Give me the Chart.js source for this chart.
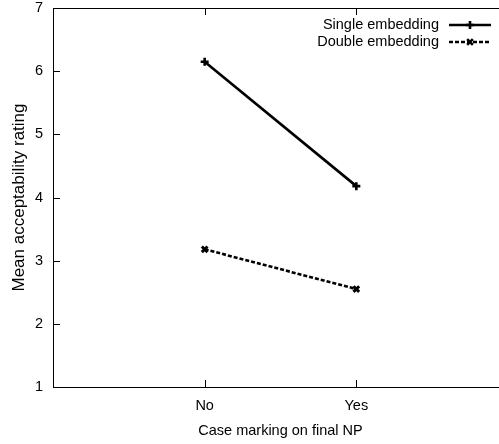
<!DOCTYPE html>
<html><head><meta charset="utf-8">
<script src="https://cdn.jsdelivr.net/npm/chart.js@4/dist/chart.umd.min.js"></script>
<style>
html,body{margin:0;padding:0;overflow:hidden;background:#fff;width:499px;height:444px}
#wrap{position:relative;width:520px;height:444px}
</style></head>
<body><div id="wrap"><canvas id="c" width="520" height="444"></canvas></div>
<script>
const categories = ['No', 'Yes'];
const seriesNames = ['Single embedding', 'Double embedding'];
const singleValues = [6.15, 4.18];
const doubleValues = [3.18, 2.55];
const yTicks = [1, 2, 3, 4, 5, 6, 7];
const xTitle = 'Case marking on final NP';
const yTitle = 'Mean acceptability rating';

const FONT = "'Liberation Sans', Arial, sans-serif";

function toPoints(vals) { return vals.map((v, i) => ({ x: i + 1, y: v })); }

const frame = {
  id: 'frame',
  beforeDatasetsDraw(chart) {
    const { ctx, chartArea: a, scales } = chart;
    ctx.save();
    ctx.strokeStyle = '#000';
    ctx.lineWidth = 1;
    ctx.strokeRect(a.left + 0.5, a.top + 0.5, a.right - a.left, a.bottom - a.top);
    const L = 7;
    ctx.beginPath();
    yTicks.forEach(v => {
      const y = Math.round(scales.y.getPixelForValue(v)) + 0.5;
      ctx.moveTo(a.left, y); ctx.lineTo(a.left + L, y);
      ctx.moveTo(a.right, y); ctx.lineTo(a.right - L, y);
    });
    categories.forEach((c, i) => {
      const x = Math.round(scales.x.getPixelForValue(i + 1)) + 0.5;
      ctx.moveTo(x, a.bottom); ctx.lineTo(x, a.bottom - L);
      ctx.moveTo(x, a.top); ctx.lineTo(x, a.top + L);
    });
    ctx.stroke();
    ctx.restore();
  }
};

const legendPlugin = {
  id: 'customLegend',
  afterDraw(chart) {
    const { ctx } = chart;
    ctx.save();
    ctx.font = '14.5px ' + FONT;
    ctx.textAlign = 'right';
    ctx.textBaseline = 'middle';
    ctx.fillStyle = '#000';
    const rows = [25, 42];
    chart.data.datasets.forEach((ds, i) => {
      const y = rows[i];
      ctx.fillText(ds.label, 439, y);
      ctx.strokeStyle = '#000';
      ctx.lineWidth = ds.borderWidth;
      ctx.setLineDash(ds.borderDash || []);
      ctx.beginPath();
      ctx.moveTo(449, y); ctx.lineTo(491, y);
      ctx.stroke();
      ctx.setLineDash([]);
      Chart.helpers.drawPoint(ctx, {
        pointStyle: ds.pointStyle, radius: ds.pointRadius, borderWidth: ds.pointBorderWidth, rotation: 0
      }, 470, y);
    });
    ctx.restore();
  }
};

new Chart(document.getElementById('c'), {
  type: 'line',
  data: {
    datasets: [
      {
        label: seriesNames[0], data: toPoints(singleValues),
        borderColor: '#000', backgroundColor: '#000', borderWidth: 2.6,
        pointStyle: 'cross', pointRadius: 4, pointBorderWidth: 2.6,
        pointBorderColor: '#000'
      },
      {
        label: seriesNames[1], data: toPoints(doubleValues),
        borderColor: '#000', backgroundColor: '#000', borderWidth: 2.6, borderDash: [4, 2],
        pointStyle: 'crossRot', pointRadius: 4, pointBorderWidth: 3,
        pointBorderColor: '#000'
      }
    ]
  },
  options: {
    responsive: false,
    animation: false,
    devicePixelRatio: 1,
    layout: { padding: { top: 8, right: 12, left: 0, bottom: 0 } },
    plugins: { legend: { display: false }, tooltip: { enabled: false } },
    scales: {
      x: {
        type: 'linear', min: 0, max: 3,
        afterBuildTicks: s => { s.ticks = categories.map((c, i) => ({ value: i + 1 })); },
        afterFit: s => { s.height = 57; s.paddingLeft = 0; s.paddingRight = 0; },
        ticks: { callback: v => categories[v - 1] || '', color: '#000', font: { size: 14.5, family: FONT }, padding: 10, maxRotation: 0, autoSkip: false },
        grid: { display: false, drawTicks: false },
        border: { display: false },
        title: { display: true, text: xTitle, color: '#000', font: { size: 14.5, family: FONT }, padding: { top: 0, bottom: 4 } }
      },
      y: {
        min: 1, max: 7,
        afterBuildTicks: s => { s.ticks = yTicks.map(v => ({ value: v })); },
        afterFit: s => { s.width = 53; s.paddingTop = 0; s.paddingBottom = 0; },
        ticks: { color: '#000', font: { size: 14.5, family: FONT }, padding: 10 },
        grid: { display: false, drawTicks: false },
        border: { display: false },
        title: { display: true, text: yTitle, color: '#000', font: { size: 17, family: FONT }, padding: { top: 9, bottom: 0 } }
      }
    }
  },
  plugins: [frame, legendPlugin]
});
</script>
</body></html>
